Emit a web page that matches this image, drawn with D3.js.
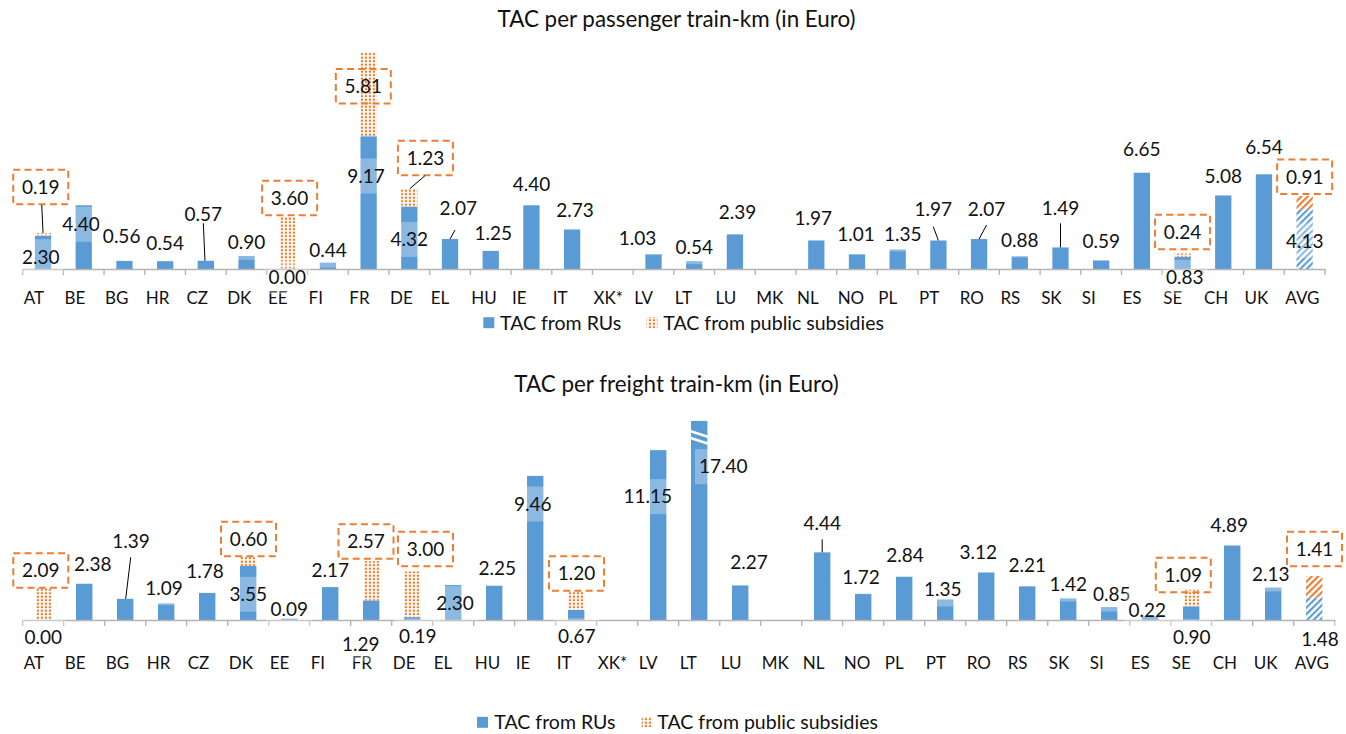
<!DOCTYPE html>
<html><head><meta charset="utf-8">
<script src="https://cdn.jsdelivr.net/npm/d3@7/dist/d3.min.js"></script>
<style>
body{margin:0;background:#fff;}
text{font-family:Lato,"Open Sans",sans-serif;fill:#111;}
</style>
</head><body>
<svg id="chart" width="1346" height="734"></svg>
<script>
// ---------------- DATA ----------------
const categories = ["AT","BE","BG","HR","CZ","DK","EE","FI","FR","DE","EL","HU","IE","IT","XK*","LV","LT","LU","MK","NL","NO","PL","PT","RO","RS","SK","SI","ES","SE","CH","UK","AVG"];
const passengerRU  = [2.30,4.40,0.56,0.54,0.57,0.90,0.00,0.44,9.17,4.32,2.07,1.25,4.40,2.73,null,1.03,0.54,2.39,null,1.97,1.01,1.35,1.97,2.07,0.88,1.49,0.59,6.65,0.83,5.08,6.54,4.13];
const passengerSub = [0.19,null,null,null,null,null,3.60,null,5.81,1.23,null,null,null,null,null,null,null,null,null,null,null,null,null,null,null,null,null,null,0.24,null,null,0.91];
const freightRU    = [0.00,2.38,1.39,1.09,1.78,3.55,0.09,2.17,1.29,0.19,2.30,2.25,9.46,0.67,null,11.15,17.40,2.27,null,4.44,1.72,2.84,1.35,3.12,2.21,1.42,0.85,0.22,0.90,4.89,2.13,1.48];
const freightSub   = [2.09,null,null,null,null,0.60,null,null,2.57,3.00,null,null,null,1.20,null,null,null,null,null,null,null,null,null,null,null,null,null,null,1.09,null,null,1.41];
const titles = ["TAC per passenger train-km (in Euro)","TAC per freight train-km (in Euro)"];
const legendLabels = ["TAC from RUs","TAC from public subsidies"];
const averageCategory = "AVG";

// ---------------- LAYOUT (label placement, px offsets) ----------------
const passLabelOff = [[-2.3,21],[-2.7,19],[-2.8,-25.2],[0,-17.9],[-2.5,-46.4],[0,-13.7],[0,7.7],[0,-12.6],[-2.6,39.8],[0,32.9],[8.3,-30.7],[2.6,-18.2],[0,-21],[2.9,-19.5],null,[-15.9,-16.4],[0,-14.5],[2.7,-22.7],null,[-3,-22.8],[-1,-20.1],[5,-15.5],[-5.1,-31.2],[7.5,-29.7],[0,-16.3],[0,-39.7],[0,-18.8],[0,-23.4],[2.3,20.3],[0,-19.4],[0,-27],[0,31.5]];
const passLeaders = {4:[0,9,-0.85],10:[-3.3,21.7,0],22:[0,17.4,0],23:[0,15.7,0],25:[0,15.6,0]};
const passSubOff = {0:[-2.3,-45.9],6:[2.4,-18.9],8:[-5.3,34.2],9:[16.1,-30.6],28:[0,-21.5],31:[0,-19.3]};
const passSubLeaders = {0:[1,18,0],9:[-0.5,17.7,0.6]};

const freLabelOff = [[0,16.7],[8.5,-19.8],[5.8,-58.1],[-2.2,-15.7],[-2.2,-21.9],[0,28.4],[0,-9.6],[0,-17],[-10.5,43.6],[5.5,18.9],[1.8,18.3],[3.1,-18],[-2.5,28.1],[0.5,25.9],null,[-10.5,46.5],[24.1,45.7],[8.8,-23.7],null,[0,-29.7],[-2.2,-17.1],[0.8,-21.7],[-2.5,-10.4],[-7.9,-20.8],[0,-21.3],[0,-14.4],[2.5,-13.1],[-2.9,-6.6],[0.5,30.4],[-2.9,-20.5],[-2.5,-13.6],[5.8,41.8]];
const freLeaders = {2:[-0.3,16.6,0.5],19:[0,16.6,0]};
const freSubOff = {0:[-2.4,-17.7],5:[0.3,-17.8],8:[-5.2,-19.7],9:[13.3,-22.4],13:[0.3,-18],28:[-7.9,-14.7],31:[0.3,-27]};
const freSubLeaders = {};

const BLUE = "#5B9BD5", ORANGE = "#ED7D31";

const svg = d3.select("#chart");
const defs = svg.append("defs");
// dotted orange pattern
const pd = defs.append("pattern").attr("id","dots").attr("patternUnits","userSpaceOnUse").attr("width",4).attr("height",3.5);
pd.append("rect").attr("width",4).attr("height",3.5).attr("fill","#fff");
pd.append("rect").attr("x",0.8).attr("y",0.6).attr("width",2.2).attr("height",2.1).attr("fill",ORANGE);
// hatches
function hatch(id,color){
  const p = defs.append("pattern").attr("id",id).attr("patternUnits","userSpaceOnUse")
    .attr("width",4.6).attr("height",4.6).attr("patternTransform","rotate(45)");
  p.append("rect").attr("width",4.6).attr("height",4.6).attr("fill","#fff");
  p.append("rect").attr("x",0).attr("width",2.1).attr("height",4.6).attr("fill",color);
}
hatch("hatchBlue",BLUE); hatch("hatchOrange",ORANGE);

function drawChart(cfg){
  const g = svg.append("g");
  const x = d3.scaleBand().domain(categories).range(cfg.xRange).paddingInner(0.6).paddingOuter(0.3);
  const y = d3.scaleLinear().domain([0,cfg.yMax]).range([cfg.base,cfg.top]);
  const step = x.step();
  const cx = c => x(c) + x.bandwidth()/2;
  const yTopLimit = y.range()[1];

  // title
  g.append("text").attr("x",676.5).attr("y",cfg.titleY).attr("text-anchor","middle")
    .style("font-size","22.4px").text(cfg.title);

  // bars
  const rows = categories.map((c,i)=>({c,i,ru:cfg.ru[i],sub:cfg.sub[i]}));
  rows.forEach(d=>{
    const isAvg = d.c===averageCategory;
    if(d.ru!=null && d.ru>0){
      const yt = Math.max(y(d.ru), yTopLimit);
      g.append("rect").attr("x",x(d.c)).attr("width",x.bandwidth())
        .attr("y",yt).attr("height",y(0)-yt)
        .attr("fill", isAvg ? "url(#hatchBlue)" : BLUE);
      if(y(d.ru) < yTopLimit){ // axis break marks
        [[10.7,15.7],[17.3,22.3]].forEach(([a,b])=>{
          g.append("line").attr("x1",x(d.c)-1).attr("x2",x(d.c)+x.bandwidth()+1)
            .attr("y1",yt+a-0.5).attr("y2",yt+b+0.5)
            .attr("stroke","#fff").attr("stroke-width",2.6);
        });
      }
    }
    if(d.sub!=null){
      const ru = d.ru||0;
      g.append("rect").attr("x",x(d.c)).attr("width",x.bandwidth())
        .attr("y",y(ru+d.sub)).attr("height",y(ru)-y(ru+d.sub))
        .attr("fill", isAvg ? "url(#hatchOrange)" : "url(#dots)");
    }
  });

  // axis
  const axis = d3.axisBottom(x).tickSize(0).tickSizeOuter(0);
  const ag = g.append("g").attr("transform",`translate(0,${cfg.base})`).call(axis);
  ag.select(".domain").attr("stroke","#B4B4B4").attr("stroke-width",1.4);
  ag.selectAll(".tick text").attr("text-anchor","start").attr("x",-step/2+1)
    .attr("y",cfg.axisLabelY).attr("dy","0.36em")
    .style("font-size","17px").style("font-family","Lato").attr("fill","#111");
  d3.range(categories.length+1).forEach(k=>{
    const tx = cfg.xRange[0] + k*step;
    ag.append("line").attr("x1",tx).attr("x2",tx).attr("y1",0).attr("y2",6)
      .attr("stroke","#B4B4B4").attr("stroke-width",1.4);
  });

  // RU labels
  rows.forEach(d=>{
    const off = cfg.labelOff[d.i];
    if(d.ru==null || !off) return;
    const barTop = Math.max(y(d.ru), yTopLimit);
    const lx = cx(d.c)+off[0], ly = barTop+off[1];
    const lg = g.append("g");
    const t = lg.append("text").attr("x",lx).attr("y",ly).attr("dy","0.36em")
      .attr("text-anchor","middle").style("font-size","19px").text(d.ru.toFixed(2));
    const w = t.node().getComputedTextLength()+8;
    lg.insert("rect","text").attr("x",lx-w/2).attr("y",ly-17.5).attr("width",w).attr("height",35)
      .attr("fill","#fff").attr("fill-opacity",0.3);
    const L = cfg.leaders[d.i];
    if(L){
      g.append("line").attr("x1",lx+L[0]).attr("y1",ly+L[1]).attr("x2",cx(d.c)+L[2]).attr("y2",barTop)
        .attr("stroke","#000").attr("stroke-width",1);
    }
  });

  // subsidy callouts
  rows.forEach(d=>{
    if(d.sub==null) return;
    const off = cfg.subOff[d.i];
    const stackTop = y((d.ru||0)+d.sub);
    const bx = cx(d.c)+off[0], by = stackTop+off[1];
    g.append("rect").attr("x",bx-27.5).attr("y",by-17.2).attr("width",55).attr("height",34.4)
      .attr("fill","none").attr("stroke",ORANGE).attr("stroke-width",2).attr("stroke-dasharray","7,4.2");
    g.append("text").attr("x",bx).attr("y",by).attr("dy","0.36em").attr("text-anchor","middle")
      .style("font-size","19px").text(d.sub.toFixed(2));
    const L = cfg.subLeaders[d.i];
    if(L){
      g.append("line").attr("x1",bx+L[0]).attr("y1",by+L[1]).attr("x2",cx(d.c)+L[2]).attr("y2",stackTop)
        .attr("stroke","#000").attr("stroke-width",1);
    }
  });

  // legend
  const lgd = g.append("g");
  lgd.append("rect").attr("x",cfg.legend[0]).attr("y",cfg.legendY-5.5).attr("width",11).attr("height",11).attr("fill",BLUE);
  lgd.append("text").attr("x",cfg.legend[1]).attr("y",cfg.legendY).attr("dy","0.36em").style("font-size","19.5px").text(legendLabels[0]);
  lgd.append("rect").attr("x",cfg.legend[2]).attr("y",cfg.legendY-5.5).attr("width",11).attr("height",11).attr("fill","url(#dots)");
  lgd.append("text").attr("x",cfg.legend[3]).attr("y",cfg.legendY).attr("dy","0.36em").style("font-size","19.5px").text(legendLabels[1]);
}

drawChart({title:titles[0], titleY:26.7, xRange:[22.7,1325], base:269, top:51.8, yMax:15,
  ru:passengerRU, sub:passengerSub, labelOff:passLabelOff, leaders:passLeaders,
  subOff:passSubOff, subLeaders:passSubLeaders, axisLabelY:28.7,
  legendY:322.7, legend:[483.3,500,646.5,663.3]});

drawChart({title:titles[1], titleY:391.7, xRange:[22.7,1334.7], base:620, top:420.9, yMax:13.07,
  ru:freightRU, sub:freightSub, labelOff:freLabelOff, leaders:freLeaders,
  subOff:freSubOff, subLeaders:freSubLeaders, axisLabelY:43.3,
  legendY:722.3, legend:[477,494.3,641.7,657.3]});
</script>
</body></html>
